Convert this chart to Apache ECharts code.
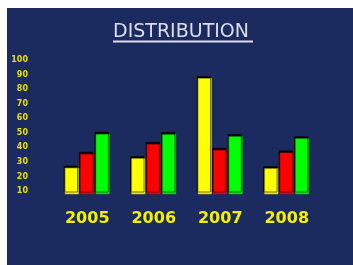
<!DOCTYPE html>
<html>
<head>
<meta charset="utf-8">
<script src="https://cdn.jsdelivr.net/npm/echarts@6/dist/echarts.min.js"></script>
<style>
  html, body { margin: 0; padding: 0; background: #ffffff; }
  #chart { position: absolute; left: 7px; top: 8px; width: 346px; height: 257px; }
</style>
</head>
<body>
<div id="chart"></div>
<script>
var years = ["2005", "2006", "2007", "2008"];
var yellowVals = [26, 32.5, 87.5, 25.6];
var redVals = [35.5, 42.3, 38.2, 36.4];
var greenVals = [49.2, 49, 47.6, 46.2];
var yTicks = [10, 20, 30, 40, 50, 60, 70, 80, 90, 100];

var chartDom = document.getElementById("chart");
var myChart = echarts.init(chartDom);

var barStyle = function (color, border) {
  return {
    color: color,
    borderColor: border,
    borderWidth: 0.6,
    shadowColor: "#000000",
    shadowBlur: 0,
    shadowOffsetX: -1,
    shadowOffsetY: -2
  };
};

var option = {
  backgroundColor: "#1b2a5f",
  animation: false,
  title: {
    text: "DISTRIBUTION",
    left: 106,
    top: 15,
    padding: 0,
    textStyle: {
      color: "#dcdeee",
      fontFamily: "DejaVu Sans",
      fontSize: 19,
      fontWeight: "normal"
    }
  },
  graphic: [
    {
      type: "line",
      shape: { x1: 106, y1: 33.5, x2: 246, y2: 33.5 },
      style: { stroke: "#dcdeee", lineWidth: 2 }
    }
  ],
  grid: {
    left: 47,
    right: 33,
    top: 52,
    bottom: 71
  },
  xAxis: {
    type: "category",
    data: years,
    axisLine: { show: false },
    axisTick: { show: false },
    axisLabel: {
      color: "#f4f000",
      fontFamily: "DejaVu Sans",
      fontWeight: "bold",
      fontSize: 16,
      margin: 17
    }
  },
  yAxis: {
    type: "value",
    min: 8,
    max: 100,
    splitLine: { show: false },
    axisLine: { show: false },
    axisTick: { show: false },
    axisLabel: {
      customValues: yTicks,
      color: "#e8e000",
      fontFamily: "DejaVu Sans",
      fontWeight: "bold",
      fontSize: 8,
      margin: 26
    }
  },
  series: [
    {
      name: "yellow",
      type: "bar",
      data: yellowVals,
      barWidth: 14,
      barGap: "10%",
      itemStyle: barStyle("#ffff00", "#b8b800")
    },
    {
      name: "red",
      type: "bar",
      data: redVals,
      barWidth: 14,
      barGap: "10%",
      itemStyle: barStyle("#ff0000", "#b80000")
    },
    {
      name: "green",
      type: "bar",
      data: greenVals,
      barWidth: 14,
      barGap: "10%",
      itemStyle: barStyle("#00ff00", "#00a800")
    }
  ]
};

option && myChart.setOption(option);
</script>
</body>
</html>
